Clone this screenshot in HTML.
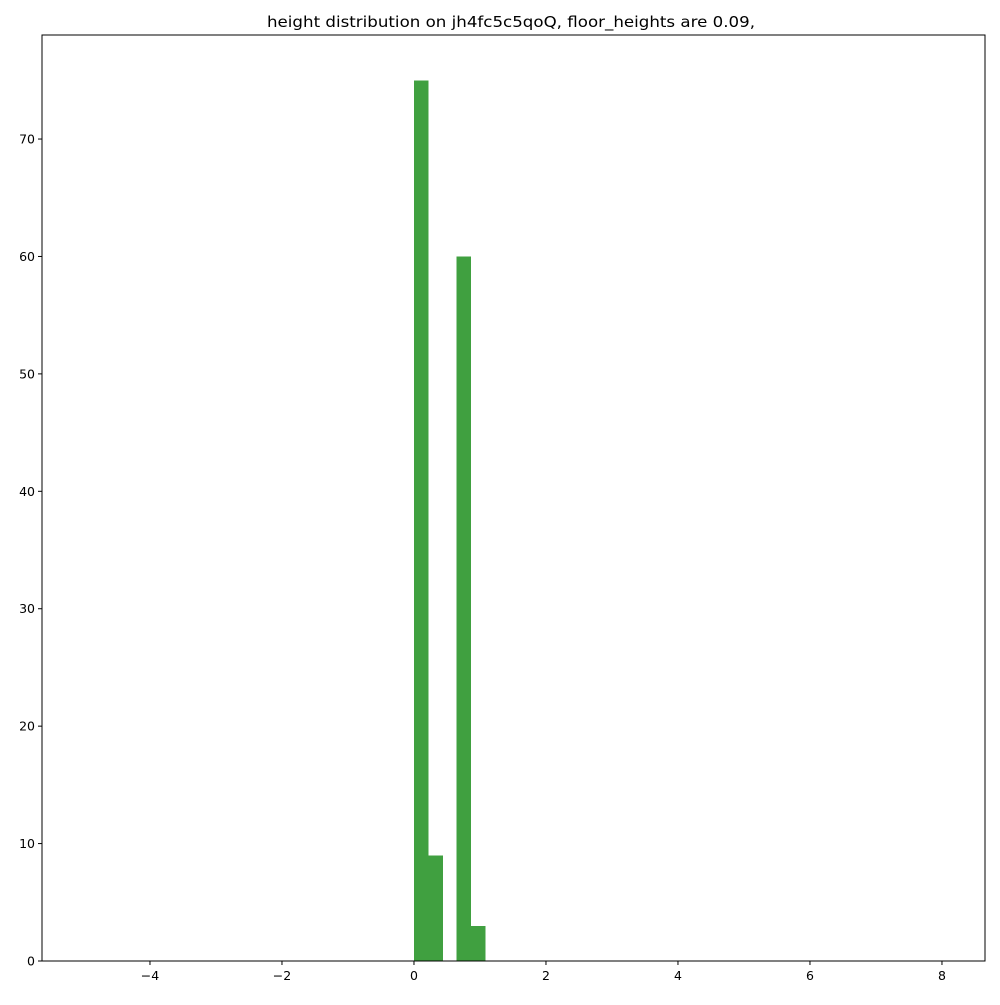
<!DOCTYPE html>
<html><head><meta charset="utf-8"><style>
body{margin:0;background:#fff;}
svg text{font-family:"DejaVu Sans","Liberation Sans",sans-serif;}
</style></head><body>
<svg id="chart" width="1000" height="1000" xmlns="http://www.w3.org/2000/svg">
<rect width="1000" height="1000" fill="#fff"/>
<text x="511" y="27" font-size="15.5" text-anchor="middle" textLength="488" lengthAdjust="spacingAndGlyphs">height distribution on jh4fc5c5qoQ, floor_heights are 0.09,</text>
<g id="bars" shape-rendering="crispEdges"></g>
<rect x="42" y="35" width="943" height="926" fill="none" stroke="#000" stroke-width="1"/>
<g id="xaxis"></g><g id="yaxis"></g>
</svg>
<script>
const binEdges = [0, 0.215, 0.43, 0.645, 0.86, 1.075];
const counts = [75, 9, 0, 60, 3];
const xTicks = [-4, -2, 0, 2, 4, 6, 8];
const yTicks = [0, 10, 20, 30, 40, 50, 60, 70];
const X0=42,X1=985,Y0=961,Y1=35;
const xmin=-5.636,xmax=8.652,ymin=0,ymax=78.86;
const sx=v=>X0+(v-xmin)/(xmax-xmin)*(X1-X0);
const sy=v=>Y0-(v-ymin)/(ymax-ymin)*(Y0-Y1);
const NS="http://www.w3.org/2000/svg";
const bars=document.getElementById('bars');
counts.forEach((c,i)=>{
  if(c<=0)return;
  const r=document.createElementNS(NS,'rect');
  
  
  const x=sx(binEdges[i]),x2=sx(binEdges[i+1]);
  r.setAttribute('x',x);r.setAttribute('width',x2-x+0.5);
  r.setAttribute('y',sy(c));r.setAttribute('height',sy(0)-sy(c));
  r.setAttribute('fill','#40a040');
  bars.appendChild(r);
});
const xa=document.getElementById('xaxis');
xTicks.forEach(t=>{
  const x=sx(t);
  const l=document.createElementNS(NS,'line');
  
  
  l.setAttribute('x1',x);l.setAttribute('x2',x);l.setAttribute('y1',Y0);l.setAttribute('y2',Y0+4);
  l.setAttribute('stroke','#000');xa.appendChild(l);
  const tx=document.createElementNS(NS,'text');
  
  
  tx.setAttribute('x',x);tx.setAttribute('y',Y0+19);tx.setAttribute('font-size','12.5');
  tx.setAttribute('text-anchor','middle');
  tx.textContent=t<0?'\u2212'+(-t):String(t);xa.appendChild(tx);
});
const ya=document.getElementById('yaxis');
yTicks.forEach(t=>{
  const y=sy(t);
  const l=document.createElementNS(NS,'line');
  
  
  l.setAttribute('x1',X0-4);l.setAttribute('x2',X0);l.setAttribute('y1',y);l.setAttribute('y2',y);
  l.setAttribute('stroke','#000');ya.appendChild(l);
  const tx=document.createElementNS(NS,'text');
  
  
  tx.setAttribute('x',X0-7);tx.setAttribute('y',y+4.5);tx.setAttribute('font-size','12.5');
  tx.setAttribute('text-anchor','end');
  tx.textContent=String(t);ya.appendChild(tx);
});
</script>
</body></html>
